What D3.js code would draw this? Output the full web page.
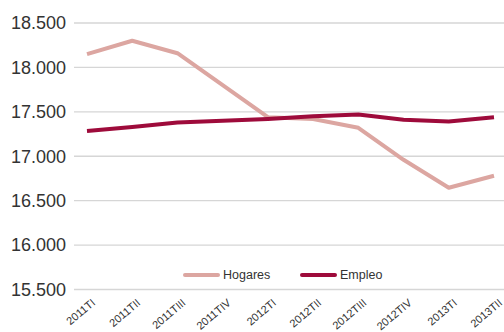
<!DOCTYPE html>
<html>
<head>
<meta charset="utf-8">
<script src="https://cdn.jsdelivr.net/npm/d3@7"></script>
<style>
  html, body { margin: 0; padding: 0; background: #fff; }
  svg { display: block; font-family: "Liberation Sans", Arial, sans-serif; }
</style>
</head>
<body>
<svg id="chart" width="504" height="332"></svg>
<script>
// Quarterly periods
const periods = ["2011TI", "2011TII", "2011TIII", "2011TIV", "2012TI", "2012TII", "2012TIII", "2012TIV", "2013TI", "2013TII"];
// Series values (thousands)
const hogares = [18150, 18300, 18160, 17800, 17440, 17420, 17320, 16960, 16645, 16780];
const empleo  = [17285, 17330, 17380, 17400, 17420, 17450, 17470, 17410, 17390, 17440];
// Y axis ticks
const yTicks = [15500, 16000, 16500, 17000, 17500, 18000, 18500];

const series = [
  { name: "Hogares", values: hogares, color: "#dca6a1" },
  { name: "Empleo",  values: empleo,  color: "#9e0b3b" }
];

const svg = d3.select("#chart");
const W = 504, H = 332;

const x = d3.scalePoint().domain(periods).range([87, 494]);
const y = d3.scaleLinear().domain([15500, 18500]).range([289.5, 23]);

// Horizontal gridlines
svg.append("g")
  .selectAll("line")
  .data(yTicks)
  .join("line")
  .attr("x1", 74).attr("x2", W)
  .attr("y1", d => y(d)).attr("y2", d => y(d))
  .attr("stroke", "#d6d6d6")
  .attr("stroke-width", 1.3);

// Y axis labels
const yAxis = d3.axisLeft(y).tickValues(yTicks).tickSize(0).tickPadding(0)
  .tickFormat(d => d3.format(".3f")(d / 1000));
svg.append("g")
  .attr("transform", "translate(66,0)")
  .call(yAxis)
  .call(g => g.select(".domain").remove())
  .call(g => g.selectAll("text")
    .attr("font-size", 18)
    .attr("font-family", "Liberation Sans, Arial, sans-serif")
    .attr("fill", "#333"));

// X axis labels, rotated
const xAxis = d3.axisBottom(x).tickSize(0).tickPadding(0);
svg.append("g")
  .attr("transform", "translate(0,290)")
  .call(xAxis)
  .call(g => g.select(".domain").remove())
  .call(g => g.selectAll("text")
    .attr("font-size", 11)
    .attr("font-family", "Liberation Sans, Arial, sans-serif")
    .attr("fill", "#333")
    .attr("text-anchor", "end")
    .attr("y", 0).attr("dy", "0.35em")
    .attr("transform", "translate(6,11) rotate(-40)"));

// Lines
const line = d3.line()
  .x((d, i) => x(periods[i]))
  .y(d => y(d));

svg.append("g")
  .selectAll("path")
  .data(series)
  .join("path")
  .attr("d", d => line(d.values))
  .attr("fill", "none")
  .attr("stroke", d => d.color)
  .attr("stroke-width", 4)
  .attr("stroke-linejoin", "round");

// Legend
const legend = svg.append("g").attr("transform", "translate(0,275)");
const legendX = [185, 302];
series.forEach((s, i) => {
  const g = legend.append("g").attr("transform", `translate(${legendX[i]},0)`);
  g.append("line")
    .attr("x1", 0).attr("x2", 33)
    .attr("y1", 0).attr("y2", 0)
    .attr("stroke", s.color)
    .attr("stroke-width", 4)
    .attr("stroke-linecap", "round");
  g.append("text")
    .attr("x", 38).attr("y", 0).attr("dy", "0.35em")
    .attr("font-size", 12.5)
    .attr("fill", "#333")
    .text(s.name);
});
</script>
</body>
</html>
